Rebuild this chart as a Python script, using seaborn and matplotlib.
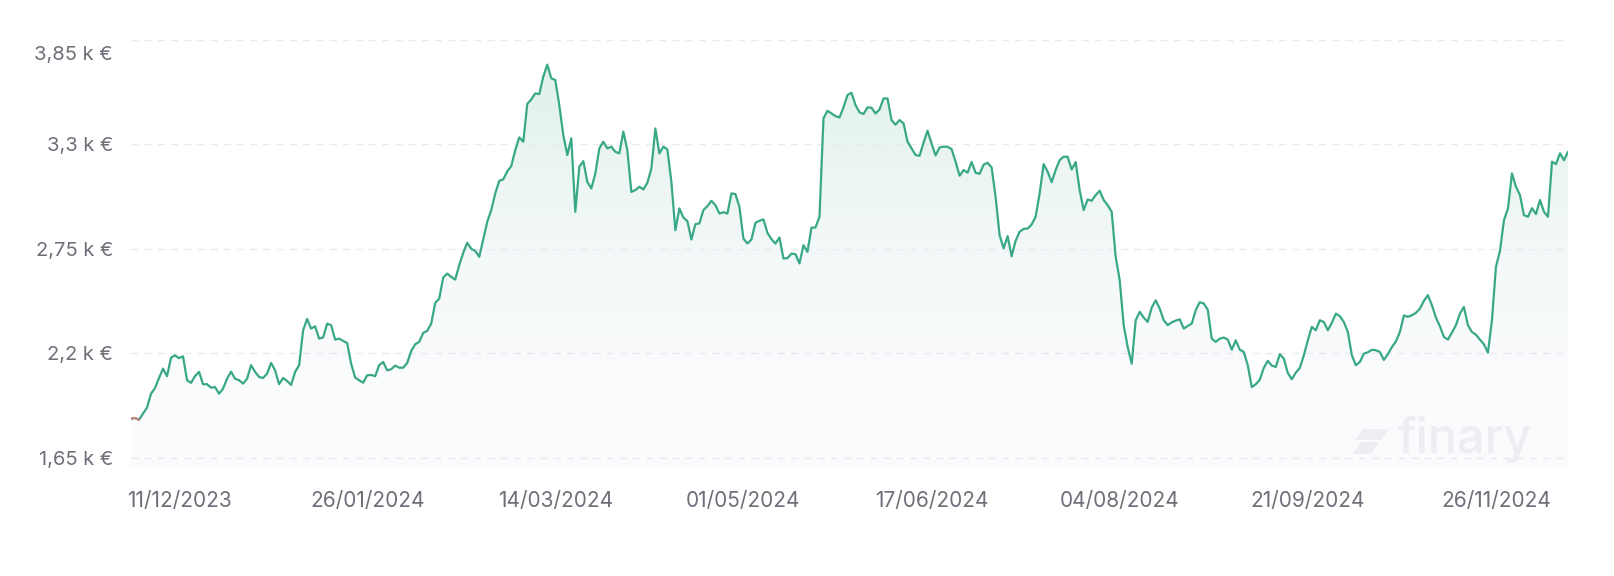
import numpy as np
import pandas as pd
import seaborn as sns
import matplotlib.pyplot as plt
import matplotlib.colors as mcolors
from matplotlib.patches import PathPatch, Polygon
from matplotlib.transforms import ScaledTranslation

sns.set_style("white")
plt.rcParams['font.family'] = ['Inter', 'DejaVu Sans']

# valeur du portefeuille en euros (un point par jour de cotation)
valeurs = [
    1856, 1859, 1850, 1882, 1914, 1987, 2017, 2070, 2119, 2079, 2177, 2189,
    2174, 2184, 2058, 2044, 2080, 2102, 2037, 2037, 2019, 2022, 1987, 2014,
    2066, 2103, 2066, 2058, 2040, 2066, 2137, 2102, 2075, 2070, 2093, 2149,
    2110, 2037, 2070, 2054, 2033, 2102, 2137, 2321, 2381, 2330, 2342, 2277,
    2283, 2356, 2348, 2272, 2277, 2265, 2254, 2145, 2072, 2058, 2045, 2084,
    2086, 2079, 2137, 2154, 2110, 2116, 2135, 2124, 2124, 2149, 2212, 2247,
    2260, 2307, 2318, 2356, 2465, 2488, 2599, 2620, 2602, 2588, 2664, 2729,
    2782, 2750, 2739, 2708, 2799, 2892, 2954, 3042, 3108, 3116, 3158, 3186,
    3270, 3337, 3314, 3513, 3537, 3569, 3565, 3657, 3720, 3648, 3639, 3507,
    3349, 3244, 3332, 2945, 3182, 3212, 3103, 3068, 3147, 3279, 3314, 3279,
    3288, 3261, 3253, 3367, 3270, 3050, 3059, 3077, 3063, 3098, 3173, 3384,
    3253, 3288, 3274, 3103, 2848, 2963, 2915, 2896, 2799, 2880, 2884, 2954,
    2975, 3003, 2980, 2936, 2943, 2936, 3042, 3038, 2971, 2804, 2778, 2799,
    2887, 2898, 2905, 2834, 2801, 2778, 2810, 2699, 2701, 2725, 2722, 2673,
    2769, 2734, 2862, 2862, 2919, 3437, 3477, 3463, 3449, 3442, 3495, 3560,
    3572, 3507, 3469, 3460, 3495, 3493, 3463, 3484, 3542, 3542, 3428, 3404,
    3428, 3411, 3314, 3279, 3244, 3240, 3309, 3372, 3305, 3242, 3284, 3288,
    3288, 3275, 3209, 3135, 3165, 3151, 3207, 3151, 3145, 3193, 3203, 3179,
    3024, 2822, 2752, 2817, 2711, 2792, 2840, 2855, 2857, 2878, 2919, 3042,
    3196, 3156, 3101, 3165, 3217, 3235, 3235, 3168, 3207, 3059, 2954, 3010,
    3003, 3033, 3056, 3007, 2980, 2945, 2708, 2585, 2348, 2233, 2145, 2374,
    2418, 2388, 2365, 2441, 2479, 2435, 2374, 2348, 2363, 2372, 2379, 2330,
    2344, 2356, 2427, 2469, 2462, 2430, 2277, 2260, 2277, 2283, 2272, 2219,
    2268, 2219, 2207, 2137, 2022, 2037, 2061, 2123, 2160, 2135, 2128, 2195,
    2172, 2096, 2063, 2098, 2123, 2189, 2268, 2339, 2321, 2374, 2365, 2321,
    2360, 2409, 2395, 2365, 2312, 2189, 2137, 2154, 2198, 2205, 2218, 2216,
    2207, 2165, 2195, 2233, 2262, 2312, 2399, 2392, 2400, 2413, 2435, 2476,
    2506, 2453, 2388, 2342, 2286, 2272, 2309, 2348, 2409, 2444, 2348, 2312,
    2298, 2272, 2247, 2203, 2374, 2655, 2739, 2901, 2963, 3147, 3077, 3033,
    2927, 2919, 2964, 2933, 3007, 2945, 2919, 3209, 3196, 3253, 3217, 3261,
]

# dates affichées et rang du point correspondant
dates_labels = ['11/12/2023', '26/01/2024', '14/03/2024', '01/05/2024',
                '17/06/2024', '04/08/2024', '21/09/2024', '26/11/2024']
dates_rang = [12, 59, 106, 153, 200, 247, 294, 341]

y_ticks = [1.65, 2.2, 2.75, 3.3, 3.85]
y_labels = ['1,65 k €', '2,2 k €', '2,75 k €', '3,3 k €', '3,85 k €']

df = pd.DataFrame({'jour': np.arange(len(valeurs)),
                   'valeur': np.array(valeurs) / 1000})
n = len(df)
y_bas, y_haut = 1.60, 3.90

fig = plt.figure(figsize=(16.14, 5.76), dpi=100)
ax = fig.add_axes([131 / 1614, 0.1889, 1437 / 1614, 0.7582])

vert = '#38a886'
gris = '#6f6e79'

# courbe
sns.lineplot(data=df, x='jour', y='valeur', color=vert, lw=1.6,
             errorbar=None, ax=ax, zorder=4)
sns.lineplot(data=df.iloc[:3], x='jour', y='valeur', color='#c4847d', lw=1.6,
             errorbar=None, ax=ax, zorder=5)

# remplissage en dégradé sous la courbe
haut = np.array(mcolors.to_rgb('#dbefe8'))
bas = np.array(mcolors.to_rgb('#fcfcfe'))
t = np.linspace(0, 1, 256)[:, None] ** 1.8
grad = (bas + (haut - bas) * t)[:, None, :]
poly = ax.fill_between(df['jour'], df['valeur'], y_bas, color='none', lw=0)
patch = PathPatch(poly.get_paths()[0], transform=ax.transData,
                  fc='none', ec='none')
ax.add_patch(patch)
img = ax.imshow(grad, extent=[0, n - 1, y_bas, y_haut], aspect='auto',
                origin='lower', zorder=1, interpolation='bilinear')
img.set_clip_path(patch)

ax.set_xlim(0, n - 1)
ax.set_ylim(y_bas, y_haut)

# axes
ax.set_yticks(y_ticks)
ax.set_yticklabels(y_labels)
ax.set_xticks(dates_rang)
ax.set_xticklabels(dates_labels)
ax.set_xlabel('')
ax.set_ylabel('')
ax.grid(axis='y', color='#e9e9ef', lw=1.0, ls=(0, (5, 4.5)))
ax.grid(axis='x', visible=False)
ax.set_axisbelow(False)
sns.despine(ax=ax, left=True, bottom=True)
ax.tick_params(axis='both', length=0, labelcolor=gris)
ax.tick_params(axis='x', pad=17, labelsize=15)
ax.tick_params(axis='y', pad=13, labelsize=14.5)

# le libellé du haut est décalé vers le bas
lab = ax.get_yticklabels()[-1]
lab.set_transform(lab.get_transform() +
                  ScaledTranslation(0, -13.5 / 100, fig.dpi_scale_trans))

# filigrane finary
H = 576
wm = '#ededf2'
for pts in ([(1355, 440), (1363, 429), (1389, 429), (1381, 440)],
            [(1353, 454), (1361, 442), (1379, 442), (1371, 454)]):
    fig.patches.append(Polygon([(x / 1614, 1 - y / H) for x, y in pts],
                               closed=True, transform=fig.transFigure,
                               fc=wm, ec='none', zorder=0))
fig.text(1398 / 1614, 1 - 453 / H, 'finary', fontsize=35, color=wm,
         fontweight='medium', ha='left', va='baseline', zorder=0)

fig.savefig('out.png', dpi=100, facecolor='white')
